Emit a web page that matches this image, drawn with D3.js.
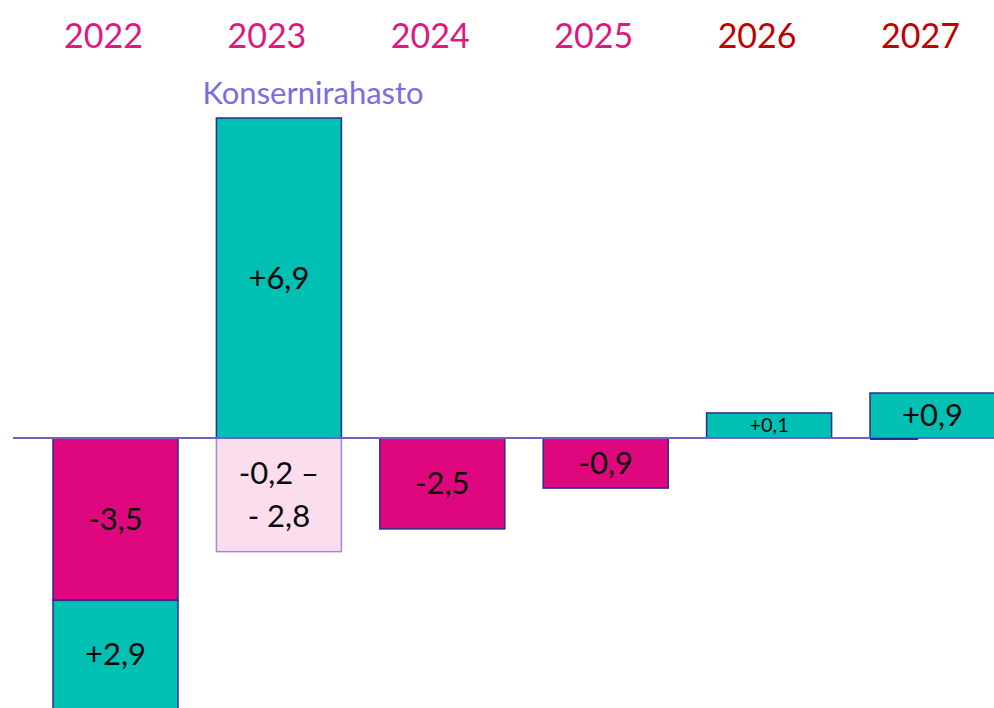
<!DOCTYPE html>
<html>
<head>
<meta charset="utf-8">
<script src="https://cdn.jsdelivr.net/npm/d3@7"></script>
<style>
  html, body { margin: 0; padding: 0; background: #fff; overflow: hidden; }
  svg { display: block; font-family: Lato, "Noto Sans", sans-serif; }
</style>
</head>
<body>
<div id="chart"></div>
<script>
// Years across the top and their heading colours
var years = ["2022", "2023", "2024", "2025", "2026", "2027"],
    yearColors = ["#e0177f", "#e0177f", "#e0177f", "#e0177f", "#c00000", "#c00000"];

// One entry per bar segment: which year, where it starts and ends (chart units), label lines, kind
var segYears  = ["2022", "2022", "2023", "2023", "2024", "2025", "2026", "2027"],
    segStart  = [0, -3.5, 0, 0, 0, 0, 0, 0],
    segEnd    = [-3.5, -6.4, 6.9, -2.45, -1.96, -1.08, 0.54, 0.97],
    segLabels = [["-3,5"], ["+2,9"], ["+6,9"], ["-0,2 \u2013", "- 2,8"], ["-2,5"], ["-0,9"], ["+0,1"], ["+0,9"]],
    segKinds  = ["cut", "gain", "gain", "range", "cut", "cut", "gain", "gain"];

var note = "Konsernirahasto";

var width = 994, height = 708;

var fills = { gain: "#00bfb3", cut: "#de077d", range: "#fbdded" },
    strokes = { gain: "#2f2a8c", cut: "#2f2a8c", range: "#9a8fd0" };

var svg = d3.select("#chart").append("svg")
    .attr("width", width)
    .attr("height", height);

var x = d3.scaleBand()
    .domain(years)
    .range([53, 995])
    .paddingInner(0.235)
    .paddingOuter(0);

var y = d3.scaleLinear()
    .domain([0, 6.9])
    .range([438, 118]);

var segments = segYears.map(function(yr, i) {
  return { year: yr, start: segStart[i], end: segEnd[i], label: segLabels[i], kind: segKinds[i] };
});

// Year headings
svg.selectAll("text.year")
  .data(years)
  .enter().append("text")
    .attr("class", "year")
    .attr("x", function(d) { return x(d) + x.bandwidth() / 2 - 12; })
    .attr("y", 48)
    .attr("text-anchor", "middle")
    .attr("font-size", 34)
    .attr("fill", function(d, i) { return yearColors[i]; })
    .text(function(d) { return d; });

// Bars
svg.selectAll("rect.seg")
  .data(segments)
  .enter().append("rect")
    .attr("class", "seg")
    .attr("x", function(d) { return x(d.year); })
    .attr("width", x.bandwidth())
    .attr("y", function(d) { return Math.min(y(d.start), y(d.end)); })
    .attr("height", function(d) { return Math.abs(y(d.end) - y(d.start)); })
    .attr("fill", function(d) { return fills[d.kind]; })
    .attr("stroke", function(d) { return strokes[d.kind]; })
    .attr("stroke-width", 1.5);

// Zero line
svg.append("line")
    .attr("x1", 13)
    .attr("x2", width)
    .attr("y1", y(0))
    .attr("y2", y(0))
    .attr("stroke", "#6f5fc9")
    .attr("stroke-width", 2);

// short dark tick left under the 2027 bar
svg.append("line")
    .attr("x1", x("2027"))
    .attr("x2", x("2027") + 48)
    .attr("y1", y(0) + 1)
    .attr("y2", y(0) + 1)
    .attr("stroke", "#2f2a8c")
    .attr("stroke-width", 2);

// Labels, centred in the visible part of each segment
var labels = svg.selectAll("text.val")
  .data(segments)
  .enter().append("text")
    .attr("class", "val")
    .attr("text-anchor", "middle")
    .attr("fill", "#0a0a0a")
    .attr("font-size", function(d) { return d.label[0] === "+0,1" ? 20 : 31; })
    .attr("x", function(d) { return x(d.year) + x.bandwidth() / 2; })
    .attr("y", function(d) {
      var top = Math.max(0, Math.min(y(d.start), y(d.end))),
          bot = Math.min(height, Math.max(y(d.start), y(d.end)));
      return (top + bot) / 2;
    });

labels.each(function(d) {
  var t = d3.select(this),
      n = d.label.length,
      lh = 1.4;
  d.label.forEach(function(line, i) {
    t.append("tspan")
      .attr("x", t.attr("x"))
      .attr("dy", i === 0 ? ((0.35 - (n - 1) * lh / 2) + "em") : (lh + "em"))
      .text(line);
  });
});

// Note above the 2023 bar
svg.append("text")
    .attr("x", x("2023") - 14)
    .attr("y", 104)
    .attr("font-size", 31)
    .attr("fill", "#7b6ce0")
    .text(note);
</script>
</body>
</html>
